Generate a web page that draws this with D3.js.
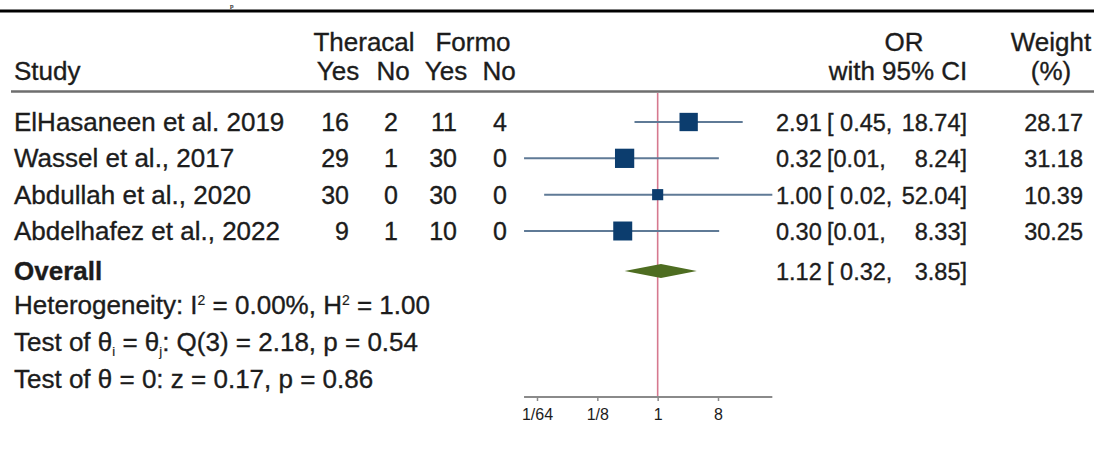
<!DOCTYPE html>
<html>
<head>
<meta charset="utf-8">
<script src="https://cdn.jsdelivr.net/npm/d3@7"></script>
<style>
  html, body { margin: 0; padding: 0; background: #fff; }
  svg { display: block; }
  text { font-family: "Liberation Sans", Arial, Helvetica, sans-serif; fill: #1c1c1c; stroke: #1c1c1c; stroke-width: 0.35px; }
</style>
</head>
<body>
<svg id="chart" width="1094" height="458"></svg>
<script>
// ---- data ----
const studies = ["ElHasaneen et al. 2019", "Wassel et al., 2017", "Abdullah et al., 2020", "Abdelhafez et al., 2022"];
const theracalYes = [16, 29, 30, 9];
const theracalNo = [2, 1, 0, 1];
const formoYes = [11, 30, 30, 10];
const formoNo = [4, 0, 0, 0];
const orValues = [2.91, 0.32, 1.00, 0.30];
const ciLower = [0.45, 0.01, 0.02, 0.01];
const ciUpper = [18.74, 8.24, 52.04, 8.33];
const weights = [28.17, 31.18, 10.39, 30.25];
const overall = { or: 1.12, lo: 0.32, hi: 3.85 };
const tickValues = [1/64, 1/8, 1, 8];
const tickLabels = ["1/64", "1/8", "1", "8"];

const svg = d3.select("#chart");
const W = 1094;

// scales
const x = d3.scaleLog().base(2).domain([1/64, 8]).range([537, 718]);
const y = d3.scaleLinear().domain([0, 3]).range([122, 231]);
const yOverall = 271;
const side = d3.scaleSqrt().domain([0, 100]).range([0, 34.5]);

const fsL = 26;     // labels
const fsN = 23.5;   // right-hand numbers
const baseOff = 9;

// remnant of text above and black rule
svg.append("text").attr("x", 230).attr("y", 8).style("font-family", "Liberation Serif, serif")
  .style("font-size", "7px").style("stroke-width", "0.2px").text("p");
svg.append("line").attr("x1", 0).attr("x2", W).attr("y1", 11).attr("y2", 11)
  .attr("stroke", "#000").attr("stroke-width", 3);

// headers
const hdr = svg.append("g").style("font-size", fsL + "px");
hdr.append("text").attr("x", 14).attr("y", 80).text("Study");
hdr.append("text").attr("x", 364).attr("y", 51).attr("text-anchor", "middle").text("Theracal");
hdr.append("text").attr("x", 473).attr("y", 51).attr("text-anchor", "middle").text("Formo");
const colCenters = [338, 393, 446, 499];
const colRights = [349, 398, 457, 507];
["Yes", "No", "Yes", "No"].forEach((t, i) =>
  hdr.append("text").attr("x", colCenters[i]).attr("y", 80).attr("text-anchor", "middle").text(t));
hdr.append("text").attr("x", 904).attr("y", 51).attr("text-anchor", "middle").text("OR");
hdr.append("text").attr("x", 898).attr("y", 80).attr("text-anchor", "middle").text("with 95% CI");
hdr.append("text").attr("x", 1051).attr("y", 51).attr("text-anchor", "middle").text("Weight");
hdr.append("text").attr("x", 1051).attr("y", 80).attr("text-anchor", "middle").text("(%)");

svg.append("line").attr("x1", 11).attr("x2", W).attr("y1", 91.5).attr("y2", 91.5)
  .attr("stroke", "#6e6e6e").attr("stroke-width", 2.5);

// reference line at OR = 1
svg.append("line").attr("x1", x(1)).attr("x2", x(1)).attr("y1", 93).attr("y2", 397)
  .attr("stroke", "#d6798f").attr("stroke-width", 1.6);

// study rows
const rows = svg.append("g").style("font-size", fsL + "px");
const nums = svg.append("g").style("font-size", fsN + "px");
const fmt = d3.format(".2f");
studies.forEach((s, i) => {
  const yy = y(i);
  rows.append("text").attr("x", 14).attr("y", yy + baseOff).text(s);
  [theracalYes[i], theracalNo[i], formoYes[i], formoNo[i]].forEach((v, j) =>
    nums.append("text").attr("x", colRights[j]).attr("y", yy + baseOff).style("font-size", "25px")
      .attr("text-anchor", "end").text(v));
  svg.append("line").attr("x1", x(ciLower[i])).attr("x2", x(ciUpper[i])).attr("y1", yy).attr("y2", yy)
    .attr("stroke", "#5f7a96").attr("stroke-width", 2);
  const sz = side(weights[i]);
  svg.append("rect").attr("x", x(orValues[i]) - sz / 2).attr("y", yy - sz / 2)
    .attr("width", sz).attr("height", sz).attr("fill", "#0c3d6e");
  nums.append("text").attr("x", 776).attr("y", yy + baseOff).text(fmt(orValues[i]));
  nums.append("text").attr("x", 827).attr("y", yy + baseOff)
    .text("[" + (i === 0 || i === 2 ? " " : "") + fmt(ciLower[i]) + ",");
  nums.append("text").attr("x", 967).attr("y", yy + baseOff).attr("text-anchor", "end").text(fmt(ciUpper[i]) + "]");
  nums.append("text").attr("x", 1083).attr("y", yy + baseOff).attr("text-anchor", "end").text(fmt(weights[i]));
});

// overall
rows.append("text").attr("x", 14).attr("y", yOverall + baseOff).style("font-weight", "bold").text("Overall");
const dh = 7;
svg.append("path")
  .attr("d", `M${x(overall.lo)},${yOverall} L${x(overall.or)},${yOverall - dh} L${x(overall.hi)},${yOverall} L${x(overall.or)},${yOverall + dh} Z`)
  .attr("fill", "#4e6d21");
nums.append("text").attr("x", 776).attr("y", yOverall + baseOff).text(fmt(overall.or));
nums.append("text").attr("x", 827).attr("y", yOverall + baseOff).text("[ " + fmt(overall.lo) + ",");
nums.append("text").attr("x", 967).attr("y", yOverall + baseOff).attr("text-anchor", "end").text(fmt(overall.hi) + "]");

// footnotes
const fn = svg.append("g").style("font-size", fsL + "px");
const t1 = fn.append("text").attr("x", 14).attr("y", 314);
t1.append("tspan").text("Heterogeneity: I");
t1.append("tspan").attr("dy", -9).style("font-size", "14px").style("stroke-width", "0.2px").text("2");
t1.append("tspan").attr("dy", 9).text(" = 0.00%, H");
t1.append("tspan").attr("dy", -9).style("font-size", "14px").style("stroke-width", "0.2px").text("2");
t1.append("tspan").attr("dy", 9).text(" = 1.00");

const t2 = fn.append("text").attr("x", 14).attr("y", 351);
t2.append("tspan").text("Test of θ");
t2.append("tspan").attr("dy", 5).style("font-size", "13px").style("stroke-width", "0.2px").text("i");
t2.append("tspan").attr("dy", -5).text(" = θ");
t2.append("tspan").attr("dy", 5).style("font-size", "13px").style("stroke-width", "0.2px").text("j");
t2.append("tspan").attr("dy", -5).text(": Q(3) = 2.18, p = 0.54");

fn.append("text").attr("x", 14).attr("y", 388).text("Test of θ = 0: z = 0.17, p = 0.86");

// x axis
const axisY = 397;
svg.append("line").attr("x1", x(ciLower[1])).attr("x2", x(ciUpper[2])).attr("y1", axisY).attr("y2", axisY)
  .attr("stroke", "#8a8a8a").attr("stroke-width", 2);
const axis = d3.axisBottom(x).tickValues(tickValues).tickFormat((d, i) => tickLabels[i]).tickSize(4).tickPadding(8);
const ag = svg.append("g").attr("transform", `translate(0,${axisY})`).call(axis);
ag.select(".domain").remove();
ag.selectAll(".tick line").attr("stroke", "#8a8a8a").attr("stroke-width", 1.5);
ag.selectAll(".tick text").style("font-family", "Liberation Sans, Arial, sans-serif")
  .style("font-size", "16px").style("stroke", "none").attr("fill", "#333");
</script>
</body>
</html>
